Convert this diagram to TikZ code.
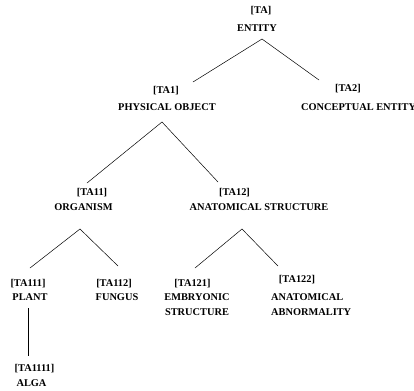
\documentclass[tikz,border=0pt]{standalone}
\usepackage{fontspec}
\setmainfont{Liberation Serif}
\begin{document}
\begin{tikzpicture}[x=1bp, y=-1bp]
    \tikzstyle{concept} = [font=\fontsize{10.4}{15}\selectfont\bfseries, inner sep=0pt, anchor=base]
    \tikzstyle{branch} = [line width=0.5pt]
    \useasboundingbox (0,0) rectangle (414,391);
    \node[concept] (ta) at (261,13) {[TA]};
    \node[concept] (entity) at (257,31.5) {ENTITY};
    \node[concept] (ta1) at (166,93.5) {[TA1]};
    \node[concept] (physical) at (167,110) {PHYSICAL OBJECT};
    \node[concept] (ta2) at (348,91.5) {[TA2]};
    \node[concept, anchor=base west] (conceptual) at (301,110) {CONCEPTUAL ENTITY};
    \node[concept] (ta11) at (92,195.5) {[TA11]};
    \node[concept] (organism) at (83.5,210.5) {ORGANISM};
    \node[concept] (ta12) at (234.5,195.5) {[TA12]};
    \node[concept] (anatomical) at (259,210.5) {ANATOMICAL STRUCTURE};
    \node[concept] (ta111) at (28,286) {[TA111]};
    \node[concept] (plant) at (30,300.5) {PLANT};
    \node[concept] (ta112) at (114,286) {[TA112]};
    \node[concept] (fungus) at (117,300.5) {FUNGUS};
    \node[concept] (ta121) at (192.5,286) {[TA121]};
    \node[concept, align=center] (embryonic) at (197,315.5) {EMBRYONIC\\STRUCTURE};
    \node[concept] (ta122) at (297,282.5) {[TA122]};
    \node[concept, anchor=base west, align=left] (abnormality) at (271,315.5) {ANATOMICAL\\ABNORMALITY};
    \node[concept] (ta1111) at (34.5,371) {[TA1111]};
    \node[concept] (alga) at (31.5,386) {ALGA};
    \coordinate (entity-fork) at (262,39);
    \coordinate (ta1-top) at (193,82);
    \coordinate (ta2-top) at (319,80);
    \coordinate (physical-fork) at (162,122);
    \coordinate (ta11-top) at (87,183);
    \coordinate (ta12-top) at (218,182);
    \coordinate (organism-fork) at (80,229);
    \coordinate (ta111-top) at (30,268);
    \coordinate (ta112-top) at (118,266);
    \coordinate (anatomical-fork) at (242,229);
    \coordinate (ta121-top) at (195,268);
    \coordinate (ta122-top) at (278,266);
    \coordinate (plant-foot) at (28,308);
    \coordinate (ta1111-top) at (28,356);
    \draw[branch] (ta1-top) -- (entity-fork) -- (ta2-top);
    \draw[branch] (ta11-top) -- (physical-fork) -- (ta12-top);
    \draw[branch] (ta111-top) -- (organism-fork) -- (ta112-top);
    \draw[branch] (ta121-top) -- (anatomical-fork) -- (ta122-top);
    \draw[branch] (plant-foot) -- (ta1111-top);
\end{tikzpicture}
\end{document}
